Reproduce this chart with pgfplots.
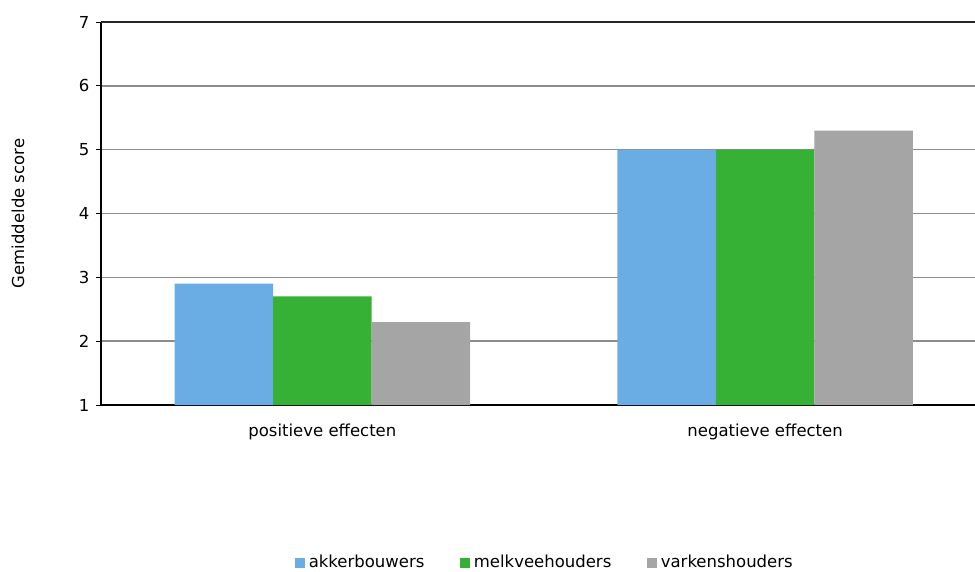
\documentclass[border=0pt]{standalone}
\usepackage{pgfplots}
\pgfplotsset{compat=1.18}
\usepackage{fontspec}
\setmainfont{DejaVu Sans}

\definecolor{cBlue}{HTML}{6AADE4}
\definecolor{cGreen}{HTML}{36B136}
\definecolor{cGray}{HTML}{A5A5A5}
\definecolor{cGrid}{HTML}{8C8C8C}

\newcommand{\chartfont}{\fontsize{16.5}{19}\selectfont}

\begin{document}
\begin{tikzpicture}
\path[use as bounding box] (0pt,0pt) rectangle (975pt,571pt);
\begin{axis}[
    at={(101pt,166pt)}, anchor=south west,
    scale only axis,
    width=874pt, height=383pt,
    xmin=-0.5, xmax=1.474,
    ymin=1, ymax=7,
    axis x line=bottom, axis y line=left,
    axis line style={black, line width=1.5pt, -},
    xtick={0,1},
    xticklabels={positieve effecten, negatieve effecten},
    x tick style={draw=none},
    ytick={1,2,3,4,5,6},
    extra y ticks={7},
    extra y tick style={grid style={black!85, line width=1.5pt}},
    y tick style={black, line width=1pt},
    tick align=outside,
    major tick length=5pt,
    ymajorgrids=true,
    grid style={cGrid, line width=1.4pt},
    tick label style={font=\chartfont},
    /pgf/number format/assume math mode=true,
    yticklabel style={xshift=-3pt},
    xticklabel style={yshift=-10pt},
    ylabel={Gemiddelde score},
    ylabel style={font=\chartfont, at={(axis description cs:-0.095,0.5)}, anchor=center},
    ybar=0pt,
    bar width=98.5pt,
    legend style={at={(0.508,-0.411)}, anchor=center, draw=none, legend columns=3,
        font=\chartfont, inner sep=0pt,
        /tikz/every odd column/.append style={column sep=1.5pt},
        /tikz/every even column/.append style={column sep=34pt}},
    legend image code/.code={\fill[#1] (0pt,-6pt) rectangle (10pt,4pt);},
    legend cell align=left,
]
\addplot[fill=cBlue, draw=none] coordinates {(0,2.9) (1,5.0)};
\addlegendentry{akkerbouwers}
\addplot[fill=cGreen, draw=none] coordinates {(0,2.7) (1,5.0)};
\addlegendentry{melkveehouders}
\addplot[fill=cGray, draw=none] coordinates {(0,2.3) (1,5.3)};
\addlegendentry{varkenshouders}
\end{axis}
\end{tikzpicture}
\end{document}
